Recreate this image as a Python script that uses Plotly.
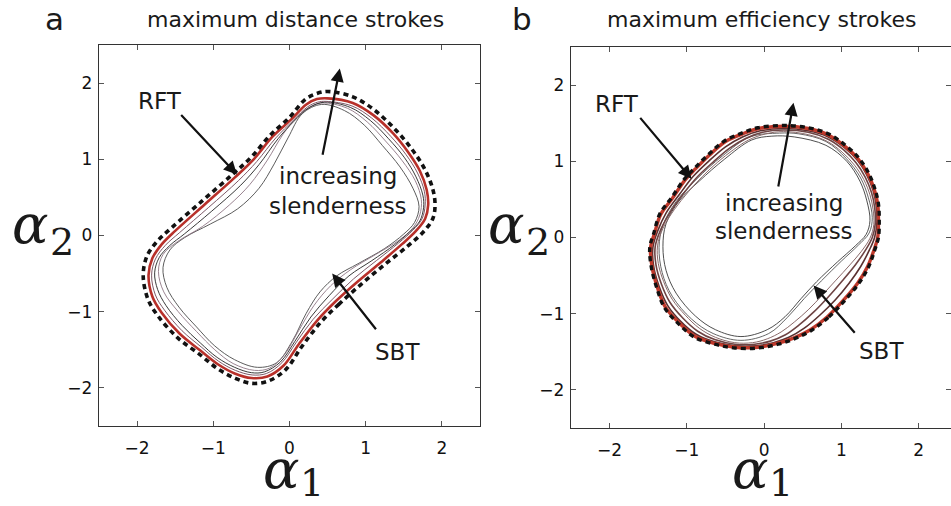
import plotly.graph_objects as go

# ---------------- Panel a: maximum distance strokes ----------------
a_rft_x = [0.94, 0.65, 0.40, 0.16, -0.05, -0.28, -0.50, -0.72, -0.94, -1.18, -1.47, -1.73, -1.86, -1.92, -1.87, -1.74, -1.55, -1.15, -0.75, -0.50, -0.25, 0.00, 0.20, 0.35, 0.50, 0.83, 1.11, 1.38, 1.60, 1.77, 1.88, 1.91, 1.88, 1.75, 1.55, 1.25, 0.94]
a_rft_y = [-0.64, -0.90, -1.15, -1.46, -1.76, -1.91, -1.94, -1.87, -1.75, -1.56, -1.34, -1.05, -0.83, -0.52, -0.27, -0.08, 0.10, 0.45, 0.80, 1.03, 1.32, 1.55, 1.78, 1.86, 1.89, 1.82, 1.65, 1.40, 1.14, 0.88, 0.61, 0.40, 0.22, 0.04, -0.14, -0.38, -0.64]

a_sbt_x = [0.90, 0.61, 0.36, 0.12, -0.08, -0.29, -0.50, -0.72, -0.94, -1.17, -1.44, -1.68, -1.80, -1.85, -1.80, -1.68, -1.50, -1.11, -0.72, -0.47, -0.22, 0.03, 0.22, 0.36, 0.50, 0.83, 1.10, 1.36, 1.56, 1.71, 1.80, 1.82, 1.78, 1.66, 1.48, 1.20, 0.90]
a_sbt_y = [-0.60, -0.86, -1.12, -1.43, -1.71, -1.85, -1.87, -1.81, -1.69, -1.51, -1.29, -1.01, -0.80, -0.52, -0.30, -0.12, 0.06, 0.41, 0.76, 1.00, 1.30, 1.53, 1.72, 1.79, 1.80, 1.74, 1.58, 1.34, 1.09, 0.85, 0.60, 0.40, 0.22, 0.06, -0.11, -0.35, -0.60]

a_s1_x = [0.84, 0.56, 0.31, 0.09, -0.10, -0.30, -0.49, -0.71, -0.93, -1.15, -1.41, -1.64, -1.76, -1.81, -1.76, -1.63, -1.44, -1.06, -0.67, -0.43, -0.18, 0.05, 0.24, 0.37, 0.48, 0.82, 1.08, 1.33, 1.53, 1.68, 1.77, 1.78, 1.74, 1.62, 1.43, 1.14, 0.84]
a_s1_y = [-0.57, -0.84, -1.10, -1.40, -1.67, -1.81, -1.83, -1.77, -1.65, -1.47, -1.25, -0.98, -0.78, -0.52, -0.31, -0.13, 0.04, 0.37, 0.72, 0.97, 1.28, 1.51, 1.69, 1.75, 1.76, 1.70, 1.54, 1.30, 1.06, 0.82, 0.58, 0.40, 0.22, 0.07, -0.10, -0.33, -0.57]

a_s2_x = [0.78, 0.52, 0.28, 0.07, -0.12, -0.33, -0.50, -0.72, -0.95, -1.17, -1.41, -1.62, -1.73, -1.77, -1.71, -1.57, -1.38, -1.02, -0.64, -0.40, -0.15, 0.06, 0.26, 0.46, 0.80, 1.06, 1.30, 1.51, 1.66, 1.75, 1.76, 1.71, 1.58, 1.38, 1.08, 0.78]
a_s2_y = [-0.53, -0.79, -1.07, -1.39, -1.66, -1.79, -1.80, -1.73, -1.60, -1.41, -1.18, -0.92, -0.71, -0.49, -0.29, -0.13, 0.02, 0.32, 0.66, 0.93, 1.27, 1.50, 1.68, 1.75, 1.68, 1.51, 1.27, 1.02, 0.77, 0.53, 0.37, 0.19, 0.05, -0.12, -0.33, -0.53]

a_s3_x = [0.80, 0.54, 0.32, 0.12, -0.07, -0.26, -0.46, -0.74, -0.98, -1.22, -1.46, -1.65, -1.72, -1.66, -1.47, -1.14, -0.79, -0.52, -0.29, -0.09, 0.12, 0.30, 0.44, 0.76, 1.02, 1.26, 1.48, 1.65, 1.73, 1.71, 1.62, 1.44, 1.13, 0.80]
a_s3_y = [-0.45, -0.66, -0.92, -1.25, -1.57, -1.74, -1.77, -1.68, -1.50, -1.26, -1.00, -0.74, -0.47, -0.25, -0.08, 0.12, 0.40, 0.67, 0.99, 1.32, 1.58, 1.70, 1.74, 1.67, 1.49, 1.24, 0.98, 0.72, 0.47, 0.27, 0.10, -0.06, -0.25, -0.45]

a_s4_x = [0.90, 0.62, 0.40, 0.22, 0.04, -0.17, -0.42, -0.72, -0.98, -1.22, -1.45, -1.61, -1.66, -1.57, -1.38, -1.04, -0.68, -0.40, -0.20, -0.02, 0.17, 0.42, 0.72, 0.98, 1.22, 1.45, 1.62, 1.70, 1.64, 1.50, 1.25, 0.90]
a_s4_y = [-0.37, -0.53, -0.74, -1.02, -1.38, -1.67, -1.73, -1.63, -1.45, -1.20, -0.94, -0.68, -0.42, -0.19, -0.03, 0.15, 0.35, 0.62, 0.94, 1.28, 1.60, 1.72, 1.64, 1.45, 1.18, 0.90, 0.62, 0.38, 0.17, 0.02, -0.17, -0.37]

# ---------------- Panel b: maximum efficiency strokes ----------------
b_rft_x = [1.04, 0.83, 0.61, 0.39, 0.18, -0.08, -0.38, -0.64, -0.90, -1.11, -1.29, -1.39, -1.46, -1.48, -1.43, -1.35, -1.20, -1.03, -0.90, -0.72, -0.51, -0.29, -0.08, 0.25, 0.57, 0.83, 1.04, 1.22, 1.35, 1.43, 1.48, 1.49, 1.48, 1.43, 1.35, 1.22, 1.04]
b_rft_y = [-0.83, -1.05, -1.22, -1.33, -1.40, -1.45, -1.45, -1.40, -1.31, -1.13, -0.92, -0.66, -0.39, -0.13, 0.05, 0.31, 0.52, 0.77, 0.91, 1.09, 1.27, 1.37, 1.44, 1.47, 1.44, 1.36, 1.22, 1.05, 0.85, 0.65, 0.44, 0.22, 0.00, -0.17, -0.39, -0.61, -0.83]

b_sbt_x = [1.03, 0.82, 0.60, 0.38, 0.17, -0.08, -0.38, -0.64, -0.89, -1.10, -1.28, -1.38, -1.45, -1.47, -1.42, -1.34, -1.19, -1.02, -0.89, -0.71, -0.50, -0.28, -0.07, 0.25, 0.57, 0.82, 1.03, 1.21, 1.34, 1.42, 1.47, 1.48, 1.47, 1.42, 1.34, 1.21, 1.03]
b_sbt_y = [-0.82, -1.04, -1.21, -1.32, -1.39, -1.44, -1.44, -1.39, -1.30, -1.12, -0.91, -0.66, -0.39, -0.13, 0.05, 0.30, 0.51, 0.76, 0.90, 1.08, 1.26, 1.36, 1.43, 1.46, 1.43, 1.35, 1.21, 1.04, 0.84, 0.65, 0.44, 0.22, 0.00, -0.17, -0.38, -0.60, -0.82]

b_s1_x = [1.10, 0.92, 0.72, 0.52, 0.32, 0.12, -0.10, -0.38, -0.64, -0.88, -1.08, -1.25, -1.36, -1.43, -1.44, -1.38, -1.27, -1.10, -0.92, -0.72, -0.50, -0.28, -0.05, 0.25, 0.57, 0.83, 1.04, 1.21, 1.33, 1.41, 1.45, 1.46, 1.43, 1.36, 1.25, 1.10]
b_s1_y = [-0.60, -0.82, -1.02, -1.19, -1.31, -1.38, -1.42, -1.42, -1.37, -1.27, -1.10, -0.89, -0.64, -0.38, -0.13, 0.08, 0.32, 0.56, 0.80, 1.00, 1.19, 1.32, 1.40, 1.43, 1.40, 1.32, 1.18, 1.01, 0.82, 0.62, 0.42, 0.20, 0.00, -0.17, -0.38, -0.60]

b_s2_x = [1.01, 0.83, 0.64, 0.45, 0.27, 0.08, -0.12, -0.38, -0.64, -0.86, -1.05, -1.22, -1.33, -1.40, -1.41, -1.34, -1.21, -1.04, -0.86, -0.66, -0.45, -0.24, -0.02, 0.25, 0.57, 0.83, 1.03, 1.19, 1.31, 1.39, 1.43, 1.44, 1.40, 1.31, 1.18, 1.01]
b_s2_y = [-0.57, -0.78, -0.98, -1.15, -1.28, -1.36, -1.40, -1.40, -1.34, -1.23, -1.06, -0.85, -0.61, -0.36, -0.12, 0.10, 0.34, 0.58, 0.80, 0.99, 1.17, 1.30, 1.38, 1.41, 1.38, 1.29, 1.15, 0.98, 0.79, 0.59, 0.40, 0.19, 0.00, -0.17, -0.36, -0.57]

b_s3_x = [0.93, 0.75, 0.57, 0.39, 0.22, 0.04, -0.15, -0.38, -0.63, -0.84, -1.02, -1.19, -1.30, -1.37, -1.38, -1.31, -1.16, -0.98, -0.80, -0.60, -0.40, -0.20, 0.02, 0.25, 0.57, 0.82, 1.01, 1.17, 1.29, 1.37, 1.41, 1.42, 1.37, 1.26, 1.11, 0.93]
b_s3_y = [-0.56, -0.76, -0.95, -1.11, -1.24, -1.33, -1.38, -1.38, -1.31, -1.19, -1.02, -0.81, -0.58, -0.34, -0.11, 0.12, 0.37, 0.60, 0.80, 0.99, 1.15, 1.28, 1.36, 1.39, 1.35, 1.26, 1.12, 0.95, 0.76, 0.56, 0.37, 0.17, -0.01, -0.18, -0.36, -0.56]

b_s4_x = [0.74, 0.52, 0.30, 0.06, -0.30, -0.66, -0.94, -1.19, -1.32, -1.36, -1.31, -1.14, -0.88, -0.54, -0.18, 0.20, 0.45, 0.80, 1.06, 1.25, 1.35, 1.40, 1.36, 1.22, 1.00, 0.74]
b_s4_y = [-0.57, -0.80, -1.05, -1.26, -1.35, -1.26, -1.07, -0.77, -0.46, -0.13, 0.16, 0.47, 0.76, 1.07, 1.32, 1.37, 1.36, 1.26, 1.04, 0.78, 0.52, 0.26, 0.06, -0.10, -0.31, -0.57]

b_s5_x = [0.68, 0.48, 0.27, 0.04, -0.30, -0.63, -0.89, -1.14, -1.27, -1.31, -1.27, -1.10, -0.84, -0.51, -0.16, 0.10, 0.39, 0.80, 1.07, 1.24, 1.33, 1.37, 1.32, 1.18, 0.95, 0.68]
b_s5_y = [-0.58, -0.80, -1.04, -1.21, -1.30, -1.21, -1.03, -0.73, -0.43, -0.12, 0.18, 0.48, 0.74, 1.03, 1.28, 1.33, 1.32, 1.21, 1.00, 0.74, 0.48, 0.22, 0.04, -0.11, -0.32, -0.58]

tick_vals = [-2, -1, 0, 1, 2]
tick_text = ["\u22122", "\u22121", "0", "1", "2"]

panel_titles = ["maximum distance strokes", "maximum efficiency strokes"]
panel_letters = ["a", "b"]

W, H = 951, 506
fig = go.Figure()


def add_curve(x, y, xa, ya, color, width, dash="solid"):
    fig.add_trace(go.Scatter(
        x=x, y=y, mode="lines", xaxis=xa, yaxis=ya,
        line=dict(color=color, width=width, dash=dash, shape="spline", smoothing=1.0),
        hoverinfo="skip", showlegend=False))


# panel a thin curves (increasing slenderness), then SBT, then RFT
add_curve(a_s4_x, a_s4_y, "x", "y", "#4a4a4a", 0.9)
add_curve(a_s3_x, a_s3_y, "x", "y", "#8f7684", 0.9)
add_curve(a_s2_x, a_s2_y, "x", "y", "#222222", 0.9)
add_curve(a_s1_x, a_s1_y, "x", "y", "#7d5a68", 1.0)
add_curve(a_sbt_x, a_sbt_y, "x", "y", "#b8302a", 2.6)
add_curve(a_rft_x, a_rft_y, "x", "y", "#111111", 3.6, "5px,4px")

# panel b
add_curve(b_s5_x, b_s5_y, "x2", "y2", "#3a3a3a", 0.9)
add_curve(b_s4_x, b_s4_y, "x2", "y2", "#555555", 0.9)
add_curve(b_s3_x, b_s3_y, "x2", "y2", "#8a6a6a", 1.0)
add_curve(b_s2_x, b_s2_y, "x2", "y2", "#6e4444", 1.6)
add_curve(b_s1_x, b_s1_y, "x2", "y2", "#5a3030", 1.6)
add_curve(b_sbt_x, b_sbt_y, "x2", "y2", "#c0392b", 3.4)
add_curve(b_rft_x, b_rft_y, "x2", "y2", "#111111", 3.4, "5px,4px")

axis_common = dict(
    showgrid=False, zeroline=False, showline=True, linecolor="#333333", linewidth=1.4,
    mirror="allticks", ticks="inside", ticklen=5, tickwidth=1, tickcolor="#555555",
    tickvals=tick_vals, ticktext=tick_text,
    tickfont=dict(family="DejaVu Sans", size=17, color="#111111"),
    fixedrange=True,
)

fig.update_layout(
    width=W, height=H, margin=dict(l=0, r=0, t=0, b=0),
    paper_bgcolor="white", plot_bgcolor="white", showlegend=False,
    xaxis=dict(domain=[99 / W, 480 / W], range=[-2.5, 2.5], anchor="y", ticklabelstandoff=6, **axis_common),
    yaxis=dict(domain=[1 - 426 / H, 1 - 45 / H], range=[-2.5, 2.5], anchor="x", ticklabelstandoff=2, **axis_common),
    xaxis2=dict(domain=[571 / W, 1.0], range=[-2.5, -2.5 + 380 / 77.25], anchor="y2", ticklabelstandoff=6, **axis_common),
    yaxis2=dict(domain=[1 - 428 / H, 1 - 47 / H], range=[-2.5, 2.5], anchor="x2", ticklabelstandoff=2, **axis_common),
)

txt_font = dict(family="DejaVu Sans", size=23, color="#1a1a1a")
anns = []


def label(x, y, text, xr, yr):
    anns.append(dict(x=x, y=y, xref=xr, yref=yr, text=text, showarrow=False, font=txt_font,
                     xanchor="center", yanchor="middle"))


def arrow(x0, y0, x1, y1, xr, yr):
    anns.append(dict(x=x1, y=y1, ax=x0, ay=y0, xref=xr, yref=yr, axref=xr, ayref=yr,
                     text="", showarrow=True, arrowhead=2, arrowsize=1.2, arrowwidth=2.2,
                     arrowcolor="#111111"))


# panel a annotations
label(-1.70, 1.76, "RFT", "x", "y")
arrow(-1.44, 1.60, -0.69, 0.80, "x", "y")
label(0.63, 0.78, "increasing", "x", "y")
label(0.63, 0.39, "slenderness", "x", "y")
arrow(0.43, 1.04, 0.66, 2.19, "x", "y")
label(1.42, -1.53, "SBT", "x", "y")
arrow(1.15, -1.25, 0.56, -0.50, "x", "y")

# panel b annotations
label(-1.91, 1.75, "RFT", "x2", "y2")
arrow(-1.62, 1.59, -0.94, 0.77, "x2", "y2")
label(0.26, 0.45, "increasing", "x2", "y2")
label(0.26, 0.09, "slenderness", "x2", "y2")
arrow(0.18, 0.65, 0.38, 1.77, "x2", "y2")
label(1.52, -1.49, "SBT", "x2", "y2")
arrow(1.19, -1.27, 0.64, -0.63, "x2", "y2")

# titles and panel letters
for cx, t in zip([295, 762], panel_titles):
    anns.append(dict(x=cx / W, y=1 - 20 / H, xref="paper", yref="paper", text=t, showarrow=False,
                     font=dict(family="DejaVu Sans", size=22, color="#1a1a1a"),
                     xanchor="center", yanchor="middle"))
for cx, t in zip([54, 522], panel_letters):
    anns.append(dict(x=cx / W, y=1.0, xref="paper", yref="paper", text=t, showarrow=False,
                     font=dict(family="DejaVu Sans", size=31, color="#1a1a1a"),
                     xanchor="center", yanchor="top", borderpad=0))

# axis labels: alpha glyph (italic) and its index as separate texts
alpha_font = dict(family="DejaVu Serif", size=54, color="#1a1a1a")
index_font = dict(family="DejaVu Serif", size=38, color="#1a1a1a")


def axis_label(ax_px, ay_px, ix_px, iy_px, idx):
    anns.append(dict(x=ax_px / W, y=1 - ay_px / H, xref="paper", yref="paper",
                     text="<i>\u03b1</i>", showarrow=False, font=alpha_font,
                     xanchor="center", yanchor="middle", borderpad=0))
    anns.append(dict(x=ix_px / W, y=1 - iy_px / H, xref="paper", yref="paper",
                     text=idx, showarrow=False, font=index_font,
                     xanchor="center", yanchor="middle", borderpad=0))


axis_label(281, 469, 312, 483, "1")
axis_label(750, 469, 781, 483, "1")
axis_label(30, 224, 62, 242, "2")
axis_label(506, 224, 538, 242, "2")

fig.update_layout(annotations=anns)
fig.write_html("out.html")
